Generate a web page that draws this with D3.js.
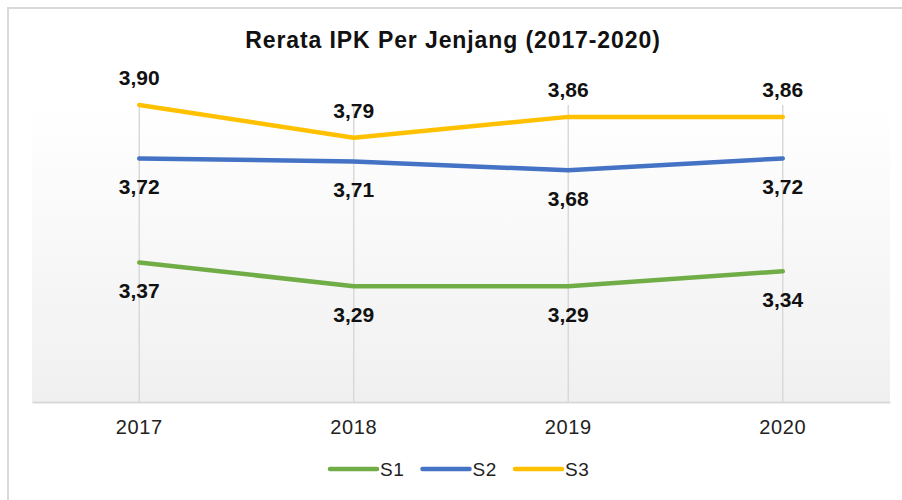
<!DOCTYPE html>
<html>
<head>
<meta charset="utf-8">
<script src="https://cdn.jsdelivr.net/npm/d3@7"></script>
<style>
    body { margin: 0; background: #fff; }
    svg { display: block; font-family: "Liberation Sans", Arial, sans-serif; }
</style>
</head>
<body>
<svg width="902" height="500"></svg>
<script>
const years = ["2017", "2018", "2019", "2020"];
const s1 = [3.37, 3.29, 3.29, 3.34];
const s2 = [3.72, 3.71, 3.68, 3.72];
const s3 = [3.90, 3.79, 3.86, 3.86];
const seriesNames = ["S1", "S2", "S3"];
const seriesColors = ["#70ad47", "#4472c4", "#ffc000"];

const series = [
    { name: seriesNames[0], values: s1, color: seriesColors[0], above: false },
    { name: seriesNames[1], values: s2, color: seriesColors[1], above: false },
    { name: seriesNames[2], values: s3, color: seriesColors[2], above: true }
];

const svg = d3.select("svg");
const fmt = v => d3.format(".2f")(v).replace(".", ",");

let x = d3.scaleBand().domain(years).range([32, 890]);
let y = d3.scaleLinear().domain([2.9, 3.9]).range([402, 105]);
const cx = d => x(d) + x.bandwidth() / 2;

// chart frame
svg.append("rect")
    .attr("x", 8).attr("y", 8).attr("width", 1000).attr("height", 600)
    .attr("fill", "#fff").attr("stroke", "#d9d9d9").attr("stroke-width", 2);

// plot area gradient
const grad = svg.append("defs").append("linearGradient")
    .attr("id", "bg").attr("x1", 0).attr("y1", 0).attr("x2", 0).attr("y2", 1);
grad.append("stop").attr("offset", "0%").attr("stop-color", "#ffffff");
grad.append("stop").attr("offset", "100%").attr("stop-color", "#f0f0f0");

svg.append("rect")
    .attr("x", x.range()[0]).attr("y", y.range()[1])
    .attr("width", x.range()[1] - x.range()[0])
    .attr("height", y.range()[0] - y.range()[1])
    .attr("fill", "url(#bg)");

// vertical gridlines at categories
svg.append("g").selectAll("line").data(years).enter()
    .append("line")
    .attr("x1", cx).attr("x2", cx)
    .attr("y1", y.range()[1]).attr("y2", y.range()[0])
    .attr("stroke", "#d9d9d9").attr("stroke-width", 1.5);

// x axis
let bottomAxis = d3.axisBottom(x).tickSize(0).tickPadding(18);
const gx = svg.append("g")
    .attr("transform", "translate(0,402)")
    .call(bottomAxis);
gx.select(".domain").attr("stroke", "#d9d9d9").attr("stroke-width", 2);
gx.selectAll("text")
    .attr("font-size", 20).attr("fill", "#222")
    .attr("letter-spacing", "0.6px")
    .attr("font-family", "'Liberation Sans', Arial, sans-serif");

// lines
const line = d3.line()
    .x((d, i) => cx(years[i]))
    .y(d => y(d));

svg.append("g").selectAll("path").data(series).enter()
    .append("path")
    .attr("d", d => line(d.values))
    .attr("fill", "none")
    .attr("stroke", d => d.color)
    .attr("stroke-width", 4.5)
    .attr("stroke-linejoin", "round")
    .attr("stroke-linecap", "round");

// data labels
series.forEach(s => {
    svg.append("g").selectAll("text").data(s.values).enter()
        .append("text")
        .attr("x", (d, i) => cx(years[i]))
        .attr("y", d => y(d) + (s.above ? -20 : 35.5))
        .attr("text-anchor", "middle")
        .attr("font-size", 21).attr("font-weight", "bold")
        .attr("fill", "#111")
        .text(d => fmt(d));
});

// title
svg.append("text")
    .attr("x", 453).attr("y", 48)
    .attr("text-anchor", "middle")
    .attr("font-size", 23).attr("font-weight", "bold")
    .attr("letter-spacing", "0.9px")
    .attr("fill", "#111")
    .text("Rerata IPK Per Jenjang (2017-2020)");

// legend
const legendX = d3.scalePoint().domain(seriesNames).range([330, 515]);
const lg = svg.append("g").selectAll("g").data(series).enter()
    .append("g")
    .attr("transform", d => `translate(${legendX(d.name)},469)`);
lg.append("line")
    .attr("x1", 0).attr("x2", 47)
    .attr("stroke", d => d.color).attr("stroke-width", 4.5)
    .attr("stroke-linecap", "round");
lg.append("text")
    .attr("x", 50).attr("y", 6.5)
    .attr("font-size", 19).attr("fill", "#222")
    .attr("letter-spacing", "0.6px")
    .text(d => d.name);
</script>
</body>
</html>
